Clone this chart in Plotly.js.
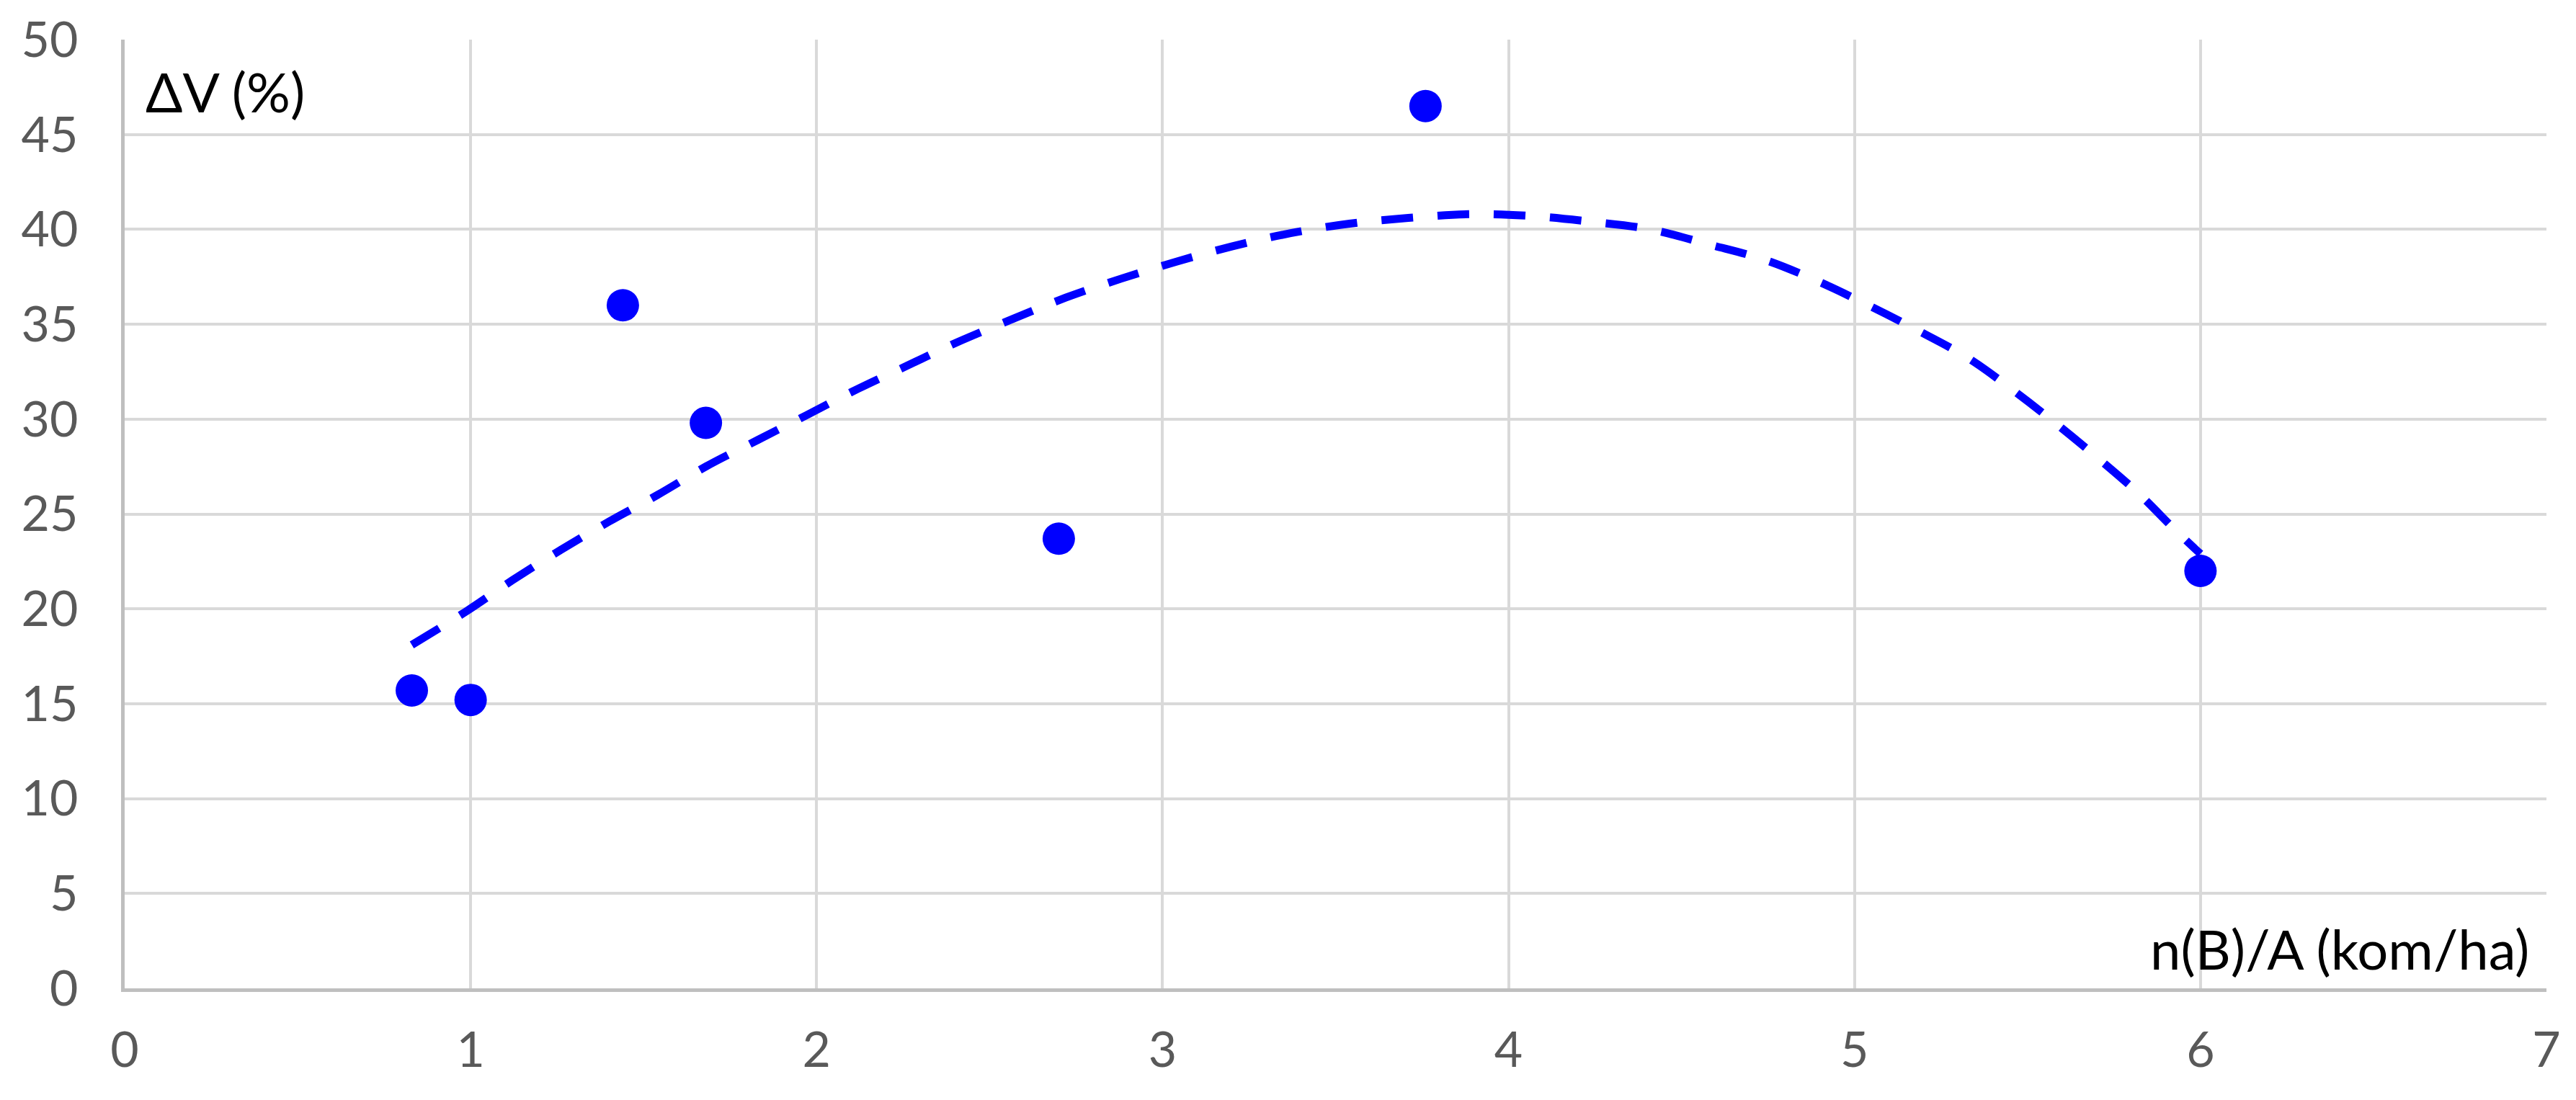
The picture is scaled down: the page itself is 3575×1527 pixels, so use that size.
<!DOCTYPE html>
<html>
<head>
<meta charset="utf-8">
<script src="https://cdn.plot.ly/plotly-3.0.1.min.js"></script>
<style>
  html, body { margin: 0; padding: 0; background: #ffffff; }
  #chart { width: 3575px; height: 1527px; }
</style>
</head>
<body>
<div id="chart"></div>
<script>
// Measured points: n(B)/A (kom/ha) vs ΔV (%)
const densityValues = [0.83, 1.00, 1.44, 1.68, 2.70, 3.76, 6.00];
const deltaVValues  = [15.7, 15.2, 36.0, 29.8, 23.7, 46.5, 22.0];

// Trend line
const trendX = [0.83, 0.99, 1.12, 1.26, 1.40, 1.54, 1.68, 1.83, 1.97, 2.12, 2.26, 2.40,
                2.57, 2.72, 2.88, 3.04, 3.20, 3.37, 3.54, 3.71, 3.89, 4.07, 4.24, 4.41,
                4.58, 4.74, 4.89, 5.04, 5.18, 5.33, 5.46, 5.58, 5.70, 5.82, 5.93, 6.00];
const trendY = [18.1, 19.9, 21.5, 23.1, 24.6, 26.0, 27.5, 28.9, 30.2, 31.6, 32.8, 34.0,
                35.3, 36.4, 37.4, 38.3, 39.1, 39.8, 40.3, 40.6, 40.8, 40.7, 40.4, 40.0,
                39.2, 38.4, 37.3, 36.0, 34.7, 33.2, 31.5, 29.8, 28.0, 26.1, 24.1, 22.9];

const xTickVals = [0, 1, 2, 3, 4, 5, 6, 7];
const yTickVals = [0, 5, 10, 15, 20, 25, 30, 35, 40, 45, 50];

const xLabel = 'n(B)/A (kom/ha)';
const yLabel = 'ΔV (%)';

const FONT = 'Lato, Carlito, Calibri, "Liberation Sans", sans-serif';

const traces = [
  {
    x: trendX, y: trendY,
    type: 'scatter', mode: 'lines',
    line: { color: '#0000FF', width: 11, dash: '44px,34px', shape: 'spline', smoothing: 1 },
    hoverinfo: 'skip', showlegend: false
  },
  {
    x: densityValues, y: deltaVValues,
    type: 'scatter', mode: 'markers',
    marker: { color: '#0000FF', size: 45, line: { width: 0 } },
    showlegend: false
  }
];

const layout = {
  width: 3575, height: 1527,
  margin: { l: 173, r: 41, t: 55, b: 155, pad: 0 },
  paper_bgcolor: '#ffffff', plot_bgcolor: '#ffffff',
  font: { family: FONT, size: 68, color: '#595959' },
  showlegend: false,
  xaxis: {
    range: [0, 7], tickvals: xTickVals, ticktext: xTickVals.map(String),
    showgrid: true, gridcolor: '#D9D9D9', gridwidth: 4,
    zeroline: false, showline: true, linecolor: '#BFBFBF', linewidth: 5,
    ticks: '', ticklabelstandoff: 22,
    tickfont: { family: FONT, size: 68, color: '#595959' },
    fixedrange: true
  },
  yaxis: {
    range: [0, 50], tickvals: yTickVals, ticktext: yTickVals.map(String),
    showgrid: true, gridcolor: '#D9D9D9', gridwidth: 4,
    zeroline: false, showline: true, linecolor: '#BFBFBF', linewidth: 5,
    ticks: '', ticklabelstandoff: 46,
    tickfont: { family: FONT, size: 68, color: '#595959' },
    fixedrange: true
  },
  annotations: [
    {
      text: yLabel, xref: 'paper', yref: 'paper',
      x: 0.008, y: 0.946, xanchor: 'left', yanchor: 'middle',
      showarrow: false, font: { family: FONT, size: 76, color: '#000000' }
    },
    {
      text: xLabel, xref: 'paper', yref: 'paper',
      x: 0.9935, y: 0.042, xanchor: 'right', yanchor: 'middle',
      showarrow: false, font: { family: FONT, size: 76, color: '#000000' }
    }
  ]
};

Plotly.newPlot('chart', traces, layout, { staticPlot: true, displayModeBar: false });
</script>
</body>
</html>
